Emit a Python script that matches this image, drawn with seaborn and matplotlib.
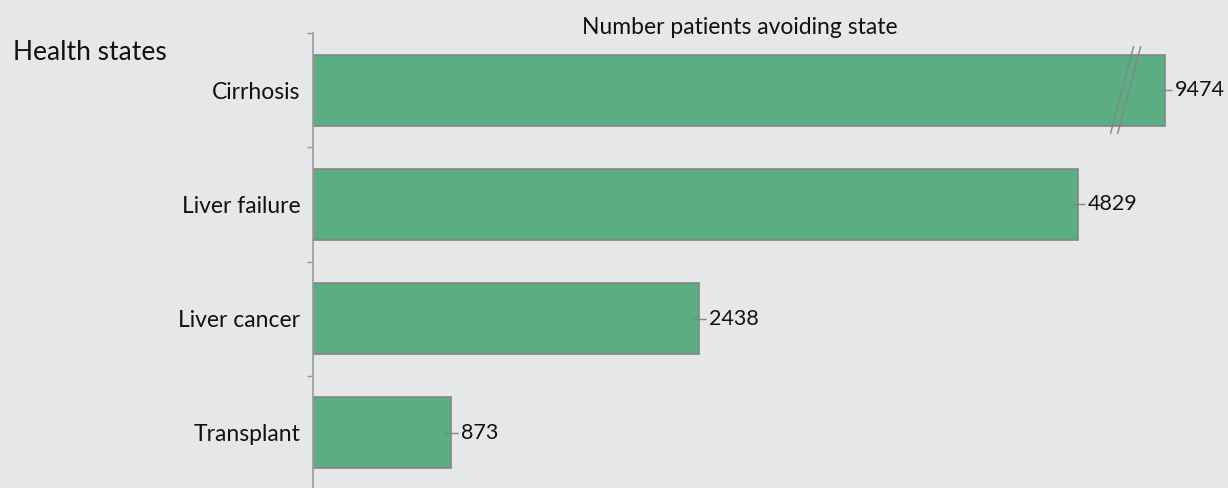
import matplotlib
matplotlib.use("Agg")
import matplotlib.pyplot as plt
import seaborn as sns
import pandas as pd

states = ["Cirrhosis", "Liver failure", "Liver cancer", "Transplant"]
patients = [9474, 4829, 2438, 873]
cap = 5380  # cirrhosis bar is drawn broken at this value

bg = "#e6e7e8"
green = "#5aae82"
edge = "#858585"

sns.set_theme(style="white")
plt.rcParams["font.family"] = ["Lato", "DejaVu Sans"]

df = pd.DataFrame({"state": states, "patients": patients})
df["shown"] = df["patients"].clip(upper=cap)

fig = plt.figure(figsize=(12.28, 4.88), dpi=100, facecolor=bg)
ax = fig.add_axes([313 / 1228, -2 / 488, 915 / 1228, 457 / 488])
ax.set_facecolor(bg)

sns.barplot(data=df, y="state", x="shown", orient="h", color=green,
            saturation=1, width=0.62, edgecolor=edge, linewidth=1.2, ax=ax)

ax.set_xlim(0, 915 / 0.1584)
ax.set_ylim(3.5, -0.5)

# value labels with small connector tick at bar end
for i, row in df.iterrows():
    ax.plot([row["shown"]], [i], marker="_", markersize=9.5, color=edge,
            markeredgewidth=1.0, zorder=5)
    ax.annotate(f"{row['patients']}", (row["shown"], i), xytext=(7, 0),
                textcoords="offset points", va="center", ha="left",
                fontsize=15.5, color="#111111")

# break marks on the capped bar
for k, v in enumerate(patients):
    if v > cap:
        for dx in (0, 45):
            x0 = cap - 345 + dx
            ax.plot([x0, x0 + 145], [k + 0.38, k - 0.38], color=edge,
                    lw=1.0, zorder=5, clip_on=False)

ax.set_yticks([-0.5, 0.5, 1.5, 2.5])
ax.set_yticklabels([])
ax.set_yticks(range(len(states)), minor=True)
ax.set_yticklabels(states, minor=True, fontsize=16.5, color="#111111")
ax.tick_params(axis="y", which="major", length=4, width=1, color="#999999",
               direction="out", left=True)
ax.tick_params(axis="y", which="minor", length=0, pad=9)
ax.set_xticks([])
ax.set_xlabel("")
ax.set_ylabel("")

for s in ["top", "right", "bottom"]:
    ax.spines[s].set_visible(False)
ax.spines["left"].set_color("#999999")
ax.spines["left"].set_linewidth(1.2)

fig.text(740 / 1228, 1 - 28 / 488, "Number patients avoiding state",
         ha="center", va="center", fontsize=16.5, color="#111111")
fig.text(13 / 1228, 1 - 52 / 488, "Health states", ha="left", va="center",
         fontsize=19, color="#111111")

fig.savefig("out.png", dpi=100, facecolor=bg)
